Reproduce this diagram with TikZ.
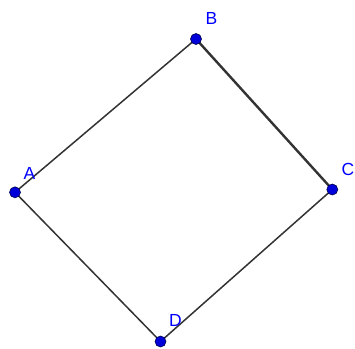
\documentclass[tikz,border=0pt]{standalone}
\usepackage{fontspec}
\setmainfont{Liberation Sans}
\begin{document}
\begin{tikzpicture}[x=1pt,y=-1pt,
  seg/.style={draw=black!80,line width=1.5pt},
  pt/.style={circle,fill=blue!85!black,draw=black!70!blue,line width=0.6pt,minimum size=11pt,inner sep=0pt},
  lbl/.style={text=blue,font=\fontsize{17.5}{17.5}\selectfont,inner sep=0pt}]
\useasboundingbox (0,0) rectangle (355,348);
\coordinate (A) at (15,192.3);
\coordinate (B) at (196,39);
\coordinate (C) at (332.3,189.5);
\coordinate (D) at (160.5,341.5);
\draw[seg] (A) -- (B);
\draw[seg,line width=2.4pt] (B) -- (C);
\draw[seg] (C) -- (D);
\draw[seg] (D) -- (A);
\node[pt] (pA) at (A) {};
\node[pt] (pB) at (B) {};
\node[pt] (pC) at (C) {};
\node[pt] (pD) at (D) {};
\node[lbl] (lA) at (29.5,173) {A};
\node[lbl] (lB) at (211.5,18) {B};
\node[lbl] (lC) at (348,169) {C};
\node[lbl] (lD) at (175.5,320) {D};
\end{tikzpicture}
\end{document}
